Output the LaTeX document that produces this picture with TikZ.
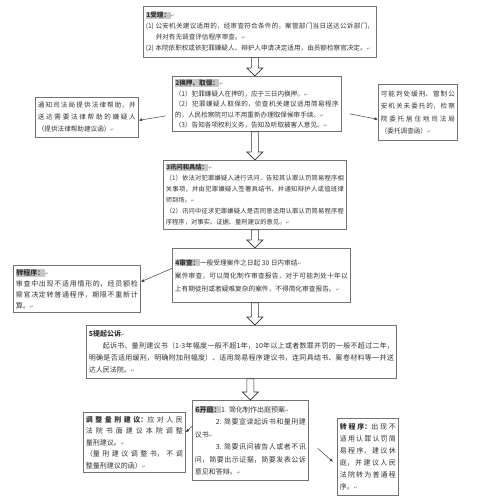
\documentclass[tikz,border=0pt]{standalone}
\usepackage{fontspec}
\setmainfont{Noto Sans CJK SC}
\newfontfamily\dejavu{DejaVu Sans}
\usetikzlibrary{arrows.meta,calc}
\XeTeXlinebreaklocale "zh"
\XeTeXlinebreakskip=0pt plus 3pt
\newcommand{\enter}{{\dejavu\fontsize{4.5}{4.5}\selectfont\textcolor{black!55}{↵}}}
\newcommand{\hd}[1]{{\setlength{\fboxsep}{0.5pt}\colorbox{black!22}{\bfseries #1}}}
\newcommand{\boxfont}[2]{\fontsize{#1}{#2}\selectfont\parindent=0pt\relax}
\newcommand{\hollow}[2]{\draw[hollowarrow] let \p1=(#1), \p2=(#2) in
  (\x1-3.5pt,\y1) -- (\x1-3.5pt,\y2+8pt) -- (\x1-8pt,\y2+8pt) -- (\x1,\y2)
  -- (\x1+8pt,\y2+8pt) -- (\x1+3.5pt,\y2+8pt) -- (\x1+3.5pt,\y1) -- cycle;}
\tikzset{
  box/.style={draw=black!55,line width=0.7pt,fill=white,anchor=north west,
    inner sep=2.5pt,align=justify,text=black!80},
  hollowarrow/.style={draw=black!80,fill=white,line width=0.6pt},
  link/.style={draw=black!75,line width=0.5pt,-{Latex[length=3.5pt,width=3pt]}},
}

\begin{document}
\begin{tikzpicture}[x=1pt,y=-1pt]
\useasboundingbox (0,0) rectangle (477,500);
% main steps
\node[box,text width=228pt,minimum height=51pt,font=\boxfont{6.6}{11}] (b1) at (143,6) {%
\hd{1受理：}\enter\par
(1) 公安机关建议适用的，经审查符合条件的，案管部门当日送达公诉部门，\linebreak
\hspace*{1.5em}并对有无调查评估程序审查。\enter\par
(2) 本院依职权或依犯罪嫌疑人、辩护人申请决定适用，由员额检察官决定。\enter};
\node[box,text width=164pt,minimum height=55pt,font=\boxfont{6.6}{10.5}] (b2) at (172,76) {%
\hd{2换押、取保：}\enter\par
（1）犯罪嫌疑人在押的，应于三日内换押。\enter\par
（2）犯罪嫌疑人取保的，侦查机关建议适用简易程序\linebreak
的，人民检察院可以不用重新办理取保候审手续。\enter\par
（3）告知各项权利义务，告知及听取被害人意见。\enter};
\node[box,text width=178pt,minimum height=69pt,font=\boxfont{6.3}{11}] (b3) at (163,160) {%
\hd{3讯问和具结：}\enter\par
（1）依法对犯罪嫌疑人进行讯问，告知其认罪认罚简易程序相\linebreak
关事项，并由犯罪嫌疑人签署具结书，并通知辩护人或值班律\linebreak
师到场。\enter\par
（2）讯问中征求犯罪嫌疑人是否同意适用认罪认罚简易程序程\linebreak
序程序，对事实、证据、量刑建议的意见。\enter};
\node[box,text width=173pt,minimum height=54pt,font=\boxfont{6.7}{13}] (b4) at (172,248) {%
\hd{4审查：}一般受理案件之日起 30 日内审结\enter\par
案件审查，可以简化制作审查报告，对于可能判处十年以\linebreak
上有期徒刑或者疑难复杂的案件，不得简化审查报告。\enter};
\node[box,text width=305pt,minimum height=53pt,font=\boxfont{7}{12}] (b5) at (86,325) {%
\textbf{5提起公诉}\enter\par
\hspace*{2em}起诉书、量刑建议书（1-3年幅度一般不超1年，10年以上或者数罪并罚的一般不超过二年，\linebreak
明确是否适用缓刑，明确附加刑幅度）、适用简易程序建议书，连同具结书、案卷材料等一并送\linebreak
达人民法院。\enter};
\node[box,text width=111pt,minimum height=80pt,font=\boxfont{7}{12.5}] (b6) at (192,400) {%
\hd{6开庭：}1. 简化制作出庭预案\enter\par
\hspace*{3em}2. 简要宣读起诉书和量刑建\linebreak
议书\enter\par
\hspace*{3em}3. 简要讯问被告人或者不讯\linebreak
问，简要出示证据，简要发表公诉\linebreak
意见和答辩。\enter};
% side boxes
\node[box,text width=98pt,minimum height=40pt,font=\boxfont{6.6}{12}] (aid) at (35,97) {%
通知司法局提供法律帮助，并\linebreak
送达需要法律帮助的嫌疑人\linebreak
（提供法律帮助建议函）\enter};
\node[box,text width=74pt,minimum height=56pt,font=\boxfont{6.6}{12.5}] (survey) at (378,84) {%
可能判处缓刑、管制公\linebreak
安机关未委托的，检察\linebreak
院委托居住地司法局\linebreak
（委托调查函）\enter};
\node[box,text width=122pt,minimum height=47pt,font=\boxfont{7}{11}] (turn1) at (13,265) {%
\hd{转程序：}\enter\par
审查中出现不适用情形的，经员额检\linebreak
察官决定转普通程序，期限不重新计\linebreak
算。\enter};
\node[box,text width=97pt,minimum height=60pt,font=\boxfont{7}{11.5}] (adjust) at (83,412) {%
\textbf{调整量刑建议：}应对人民\linebreak
法院书面建议本院调整\linebreak
量刑建议。\enter\par
（量刑建议调整书，不调\linebreak
整量刑建议的函）\enter};
\node[box,text width=56pt,minimum height=77pt,font=\boxfont{7}{12}] (turn2) at (337,418) {%
\textbf{转程序：}出现不\linebreak
适用认罪认罚简\linebreak
易程序，建议休\linebreak
庭，并建议人民\linebreak
法院转为普通程\linebreak
序。\enter};
% hollow arrows
\hollow{b1.south -| b3.north}{b2.north -| b3.north}
\hollow{b2.south -| b3.north}{b3.north}
\hollow{b3.south}{b4.north -| b3.south}
\hollow{b4.south -| b3.south}{b5.north -| b3.south}
\hollow{b5.south -| b6.north}{b6.north}
% side arrows
\draw[link] ([xshift=-6pt,yshift=-12pt]b2.west) -- ([yshift=-3pt]aid.east);
\draw[link] ([xshift=8pt,yshift=-10pt]b2.east) -- ([yshift=-7pt]survey.west);
\draw[link] ([yshift=7pt]b4.west) -- ([yshift=7pt]turn1.east);
\draw[link] ([yshift=14pt]b6.west) -- ([yshift=10pt]adjust.east);
\draw[link] ([xshift=9pt,yshift=-8pt]b6.east) -- ([xshift=-4pt,yshift=-5pt]turn2.west);
\end{tikzpicture}
\end{document}
